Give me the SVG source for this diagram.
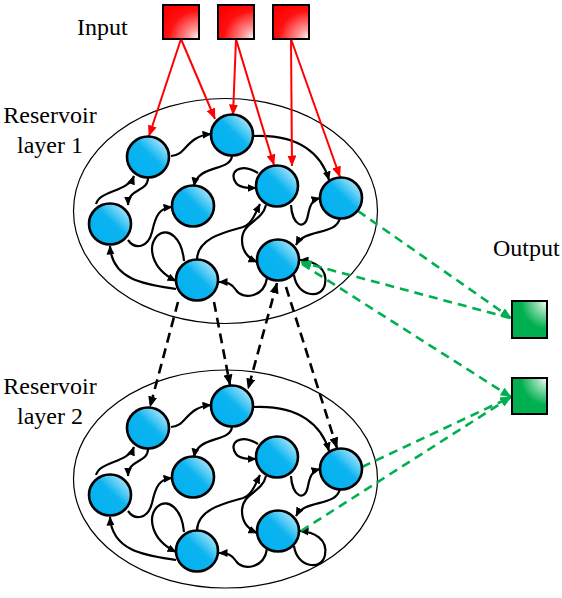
<svg xmlns="http://www.w3.org/2000/svg" width="562" height="598" viewBox="0 0 562 598">
<defs>
<linearGradient id="gBlue" x1="0" y1="1" x2="1" y2="0">
<stop offset="0" stop-color="#00b0f0"/>
<stop offset="0.55" stop-color="#0cb4f0"/>
<stop offset="1" stop-color="#e6f8ff"/>
</linearGradient>
<radialGradient id="gRed" cx="1" cy="1" r="1.2" fx="1" fy="1">
<stop offset="0" stop-color="#ffffff"/>
<stop offset="0.25" stop-color="#ff9a9a"/>
<stop offset="0.7" stop-color="#ff1010"/>
<stop offset="1" stop-color="#ff0000"/>
</radialGradient>
<radialGradient id="gGreen" cx="1" cy="0" r="1" fx="1" fy="0">
<stop offset="0" stop-color="#ffffff"/>
<stop offset="0.3" stop-color="#8fdcb0"/>
<stop offset="0.75" stop-color="#00b050"/>
<stop offset="1" stop-color="#00b050"/>
</radialGradient>
<marker id="ab" markerUnits="userSpaceOnUse" markerWidth="9" markerHeight="8" viewBox="0 0 9 8" refX="8.5" refY="4" orient="auto">
<path d="M0,0 L9,4 L0,8 z" fill="#000"/>
</marker>
<marker id="ar" markerUnits="userSpaceOnUse" markerWidth="11" markerHeight="9" viewBox="0 0 11 9" refX="10.5" refY="4.5" orient="auto">
<path d="M0,0 L11,4.5 L0,9 z" fill="#ff0000"/>
</marker>
<marker id="ad" markerUnits="userSpaceOnUse" markerWidth="11" markerHeight="9" viewBox="0 0 11 9" refX="10.5" refY="4.5" orient="auto-start-reverse">
<path d="M0,0 L11,4.5 L0,9 z" fill="#000"/>
</marker>
<marker id="ag" markerUnits="userSpaceOnUse" markerWidth="11" markerHeight="9" viewBox="0 0 11 9" refX="10.5" refY="4.5" orient="auto">
<path d="M0,0 L11,4.5 L0,9 z" fill="#00b050"/>
</marker>
</defs>
<style>
.res{fill:none;stroke:#000;stroke-width:1.2}
.node ellipse{fill:url(#gBlue);stroke:#000;stroke-width:2.6}
.inp{fill:url(#gRed);stroke:#000;stroke-width:2}
.out{fill:url(#gGreen);stroke:#000;stroke-width:2}
.lbl{font-family:"Liberation Serif","Times New Roman",serif;font-size:24px;fill:#000}
.e{fill:none;stroke:#000;stroke-width:2.2;marker-end:url(#ab)}
.r{fill:none;stroke:#ff0000;stroke-width:2;marker-end:url(#ar)}
.d{fill:none;stroke:#000;stroke-width:2.6;stroke-dasharray:10 6;marker-end:url(#ad)}
.g{fill:none;stroke:#00b050;stroke-width:2.6;stroke-dasharray:9 6;marker-end:url(#ag)}
</style>
<rect width="562" height="598" fill="#fff"/>

<g id="reservoir1"><ellipse class="res" cx="225.5" cy="211" rx="152" ry="112.5"/></g>
<g id="reservoir2"><ellipse class="res" cx="225.5" cy="479" rx="152" ry="109"/></g>

<g id="labels">
<text class="lbl" x="77" y="35">Input</text>
<text class="lbl" x="50" y="123" text-anchor="middle">Reservoir</text>
<text class="lbl" x="50" y="153" text-anchor="middle">layer 1</text>
<text class="lbl" x="50" y="394" text-anchor="middle">Reservoir</text>
<text class="lbl" x="50" y="424" text-anchor="middle">layer 2</text>
<text class="lbl" x="493" y="256">Output</text>
</g>

<g id="connectors">
<g id="edges-layer1">
<path class="e" d="M171,156 C186,156 186,136 211,134"/>
<path class="e" d="M96,204 C100,190 128,192 134,176"/>
<path class="e" d="M148,178 C148,192 128,188 128,205"/>
<path class="e" d="M232,156 C230,172 198,164 194,186"/>
<path class="e" d="M254,136 C300,134 322,155 329,180"/>
<path class="e" d="M258,173 C240,162 228,172 236,183 C240,188 248,188 256,188"/>
<path class="e" d="M128,240 C135,250 148,248 152,232 C156,214 160,208 172,207"/>
<path class="e" d="M184,261 C182,238 168,226 157,236 C148,246 150,268 176,281"/>
<path class="e" d="M176,289 C150,285 112,282 110,246"/>
<path class="e" d="M197,259 C198,238 225,232 243,227 C252,224 256,212 260,204"/>
<path class="e" d="M266,205 C262,222 242,222 242,240 C242,252 248,258 257,262"/>
<path class="e" d="M291,205 C292,225 305,232 308,215 C310,205 312,200 320,198"/>
<path class="e" d="M340,218 C336,236 305,228 296,245"/>
<path class="e" d="M294,275 C297,297 322,300 325,284 C328,268 314,261 300,260"/>
<path class="e" d="M267,278 C264,298 242,300 236,290 C232,284 228,282 219,282"/>
</g>
<g id="edges-layer2" transform="translate(0,271)">
<path class="e" d="M171,156 C186,156 186,136 211,134"/>
<path class="e" d="M96,204 C100,190 128,192 134,176"/>
<path class="e" d="M148,178 C148,192 128,188 128,205"/>
<path class="e" d="M232,156 C230,172 198,164 194,186"/>
<path class="e" d="M254,136 C300,134 322,155 329,180"/>
<path class="e" d="M258,173 C240,162 228,172 236,183 C240,188 248,188 256,188"/>
<path class="e" d="M128,240 C135,250 148,248 152,232 C156,214 160,208 172,207"/>
<path class="e" d="M184,261 C182,238 168,226 157,236 C148,246 150,268 176,281"/>
<path class="e" d="M176,289 C150,285 112,282 110,246"/>
<path class="e" d="M197,259 C198,238 225,232 243,227 C252,224 256,212 260,204"/>
<path class="e" d="M266,205 C262,222 242,222 242,240 C242,252 248,258 257,262"/>
<path class="e" d="M291,205 C292,225 305,232 308,215 C310,205 312,200 320,198"/>
<path class="e" d="M340,218 C336,236 305,228 296,245"/>
<path class="e" d="M294,275 C297,297 322,300 325,284 C328,268 314,261 300,260"/>
<path class="e" d="M267,278 C264,298 242,300 236,290 C232,284 228,282 219,282"/>
</g>
<g id="input-links">
<path class="r" d="M181,39 L149,136"/>
<path class="r" d="M181,39 L215,119"/>
<path class="r" d="M236,39 L233,115"/>
<path class="r" d="M236,39 L274,165"/>
<path class="r" d="M291,39 L292,166"/>
<path class="r" d="M291,39 L340,177"/>
</g>
<g id="layer-links">
<path class="d" d="M178,302 L150,407"/>
<path class="d" d="M214,302 L230,385"/>
<path class="d" style="marker-start:url(#ad)" d="M277,283 L248,389"/>
<path class="d" d="M286,287 L337,448"/>
</g>
<g id="output-links">
<path class="g" d="M358,211 L511,318"/>
<path class="g" d="M510,318 L301,262"/>
<path class="g" d="M302,264 L511,397"/>
<path class="g" d="M362,467 L511,397"/>
<path class="g" d="M301,531 L511,397"/>
</g>
</g>

<g id="in1"><rect class="inp" x="163" y="5" width="36" height="34"/></g>
<g id="in2"><rect class="inp" x="218" y="5" width="36" height="34"/></g>
<g id="in3"><rect class="inp" x="273" y="5" width="36" height="34"/></g>
<g id="out1"><rect class="out" x="512" y="301" width="35" height="37"/></g>
<g id="out2"><rect class="out" x="512" y="378" width="35" height="36"/></g>

<g id="l1n1" class="node"><ellipse cx="148" cy="157" rx="21" ry="20.5"/></g>
<g id="l1n2" class="node"><ellipse cx="232" cy="135" rx="21" ry="20.5"/></g>
<g id="l1n3" class="node"><ellipse cx="193" cy="206" rx="21" ry="20.5"/></g>
<g id="l1n4" class="node"><ellipse cx="110" cy="224" rx="21" ry="20.5"/></g>
<g id="l1n5" class="node"><ellipse cx="277" cy="186" rx="21" ry="20.5"/></g>
<g id="l1n6" class="node"><ellipse cx="341" cy="198" rx="21" ry="20.5"/></g>
<g id="l1n7" class="node"><ellipse cx="278" cy="260" rx="21" ry="20.5"/></g>
<g id="l1n8" class="node"><ellipse cx="197" cy="280" rx="21" ry="20.5"/></g>

<g id="l2n1" class="node"><ellipse cx="148" cy="428" rx="21" ry="20.5"/></g>
<g id="l2n2" class="node"><ellipse cx="232" cy="406" rx="21" ry="20.5"/></g>
<g id="l2n3" class="node"><ellipse cx="193" cy="477" rx="21" ry="20.5"/></g>
<g id="l2n4" class="node"><ellipse cx="110" cy="495" rx="21" ry="20.5"/></g>
<g id="l2n5" class="node"><ellipse cx="277" cy="457" rx="21" ry="20.5"/></g>
<g id="l2n6" class="node"><ellipse cx="341" cy="469" rx="21" ry="20.5"/></g>
<g id="l2n7" class="node"><ellipse cx="278" cy="531" rx="21" ry="20.5"/></g>
<g id="l2n8" class="node"><ellipse cx="197" cy="551" rx="21" ry="20.5"/></g>
</svg>
